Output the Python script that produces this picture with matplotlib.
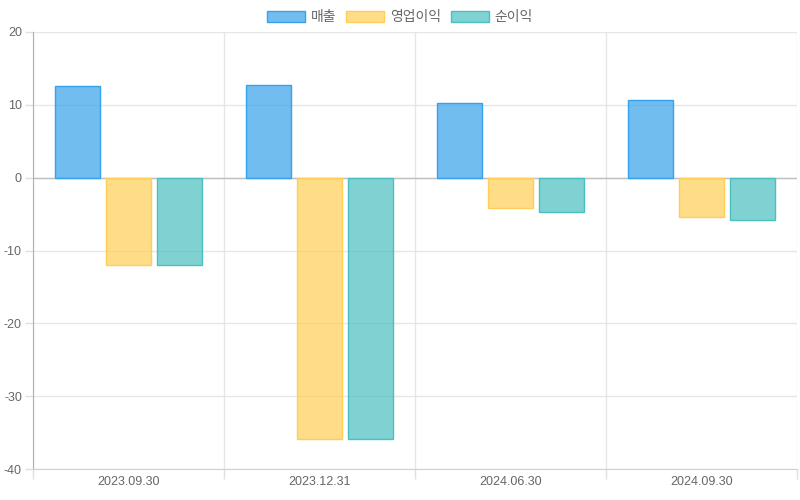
import matplotlib
matplotlib.use("Agg")
import matplotlib.pyplot as plt
import numpy as np
from matplotlib.patches import Patch

plt.rcParams['font.family'] = ['Liberation Sans', 'Noto Sans CJK KR', 'DejaVu Sans']

categories = ["2023.09.30", "2023.12.31", "2024.06.30", "2024.09.30"]
series_names = ["매출", "영업이익", "순이익"]
sales = [12.6, 12.7, 10.3, 10.6]
op_income = [-12.0, -35.9, -4.2, -5.4]
net_income = [-12.0, -35.9, -4.7, -5.85]
y_ticks = [20, 10, 0, -10, -20, -30, -40]

fills = [(54/255, 162/255, 235/255, 0.7), (255/255, 206/255, 86/255, 0.7), (75/255, 192/255, 192/255, 0.7)]
edges = [(54/255, 162/255, 235/255, 1.0), (255/255, 206/255, 86/255, 1.0), (75/255, 192/255, 192/255, 1.0)]

fig = plt.figure(figsize=(8, 5), dpi=100)
ax = fig.add_axes([33/800, 31/500, 764/800, 437/500])

x = np.arange(len(categories))
slot = 0.8 / 3
bw = slot * 0.9
for i, vals in enumerate([sales, op_income, net_income]):
    ax.bar(x - 0.4 + slot * (i + 0.5), vals, width=bw, color=fills[i],
           edgecolor=edges[i], linewidth=1, label=series_names[i], zorder=3)

ax.set_xlim(-0.5, len(categories) - 0.5)
ax.set_ylim(-40, 20)
ax.set_yticks(y_ticks)
ax.set_yticklabels([str(t) for t in y_ticks])
ax.set_xticks(x)
ax.set_xticklabels(categories)
ax.set_xticks(np.arange(len(categories) + 1) - 0.5, minor=True)

ax.tick_params(axis='x', which='major', length=0, pad=5, labelsize=9, labelcolor='#666666')
ax.tick_params(axis='x', which='minor', length=7.5, color='#e0e0e0', width=1)
ax.tick_params(axis='y', which='major', length=6, color='#e0e0e0', width=1, pad=2, labelsize=9, labelcolor='#666666')

ax.grid(True, axis='y', color='#e6e6e6', linewidth=1, zorder=0)
ax.grid(True, axis='x', which='minor', color='#e6e6e6', linewidth=1, zorder=0)
ax.axhline(0, color='#bfbfbf', linewidth=1, zorder=2)

for s in ['top', 'right']:
    ax.spines[s].set_visible(False)
ax.spines['left'].set_color('#b0b0b0')
ax.spines['bottom'].set_color('#d0d0d0')

handles = [Patch(facecolor=fills[i], edgecolor=edges[i], linewidth=1, label=series_names[i]) for i in range(3)]
fig.legend(handles=handles, loc='center', bbox_to_anchor=(0.5, 1 - 17/500), ncol=3, frameon=False,
           fontsize=10, labelcolor='#666666', handlelength=2.75, handleheight=0.85,
           handletextpad=0.4, columnspacing=0.7)

fig.savefig("out.png", dpi=100)
